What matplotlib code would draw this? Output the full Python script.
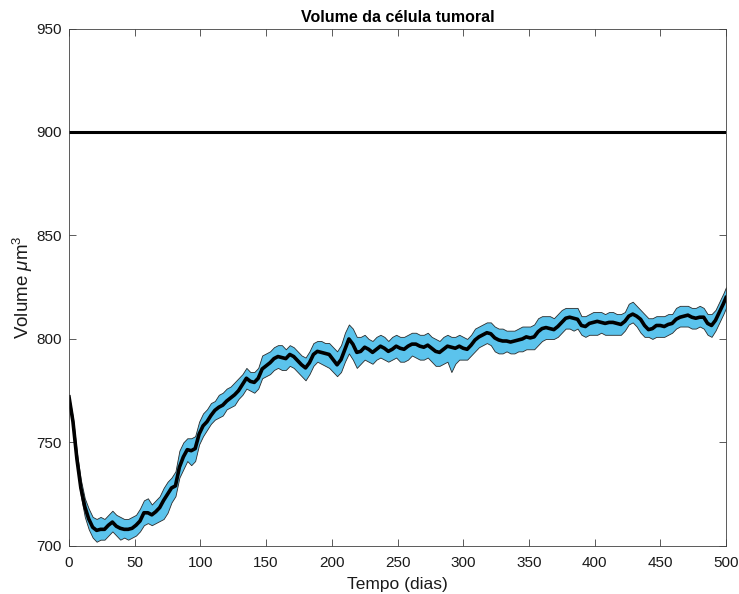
import numpy as np
import matplotlib
matplotlib.use("Agg")
import matplotlib.pyplot as plt

# tempo (dias), media e limites do volume (um^3)
dias = [0, 3, 6, 9, 12, 15, 18, 21, 24, 27, 30, 33, 36, 39, 42, 45, 48, 51, 54, 57,
        60, 63, 66, 69, 72, 75, 78, 81, 84, 87, 90, 93, 96, 99, 102, 105, 108, 111, 114, 117,
        120, 123, 126, 129, 132, 135, 138, 141, 144, 147, 150, 153, 156, 159, 162, 165, 168, 171, 174, 177,
        180, 183, 186, 189, 192, 195, 198, 201, 204, 207, 210, 213, 216, 219, 222, 225, 228, 231, 234, 237,
        240, 243, 246, 249, 252, 255, 258, 261, 264, 267, 270, 273, 276, 279, 282, 285, 288, 291, 294, 297,
        300, 303, 306, 309, 312, 315, 318, 321, 324, 327, 330, 333, 336, 339, 342, 345, 348, 351, 354, 357,
        360, 363, 366, 369, 372, 375, 378, 381, 384, 387, 390, 393, 396, 399, 402, 405, 408, 411, 414, 417,
        420, 423, 426, 429, 432, 435, 438, 441, 444, 447, 450, 453, 456, 459, 462, 465, 468, 471, 474, 477,
        480, 483, 486, 489, 492, 495, 498, 500]

media = [772, 760, 742, 728, 719, 713, 709, 707.5, 708, 708, 710, 711.5, 709.5, 708.5, 708, 708, 708.5, 710, 712, 716,
         716, 715, 716.5, 718.5, 722, 725, 728, 729, 738, 743, 746.5, 746, 747, 754, 758, 760, 763, 765.5, 767, 768,
         770, 771.5, 773, 775, 778, 781, 779.5, 779, 781, 785.5, 787, 788.5, 790.5, 791.5, 791, 790.5, 792.5, 791.5, 789.5, 787.5,
         786, 788.5, 792.5, 794, 793.5, 793, 792.5, 790, 787.5, 790, 795, 800, 797.5, 793.5, 794, 796, 795, 793.5, 795, 796.5,
         795.5, 794, 795, 796.5, 795.5, 795, 796.5, 797.5, 797.5, 796.5, 796, 797, 795.5, 794, 793.5, 795, 796.5, 796, 795.5, 796.5,
         795.5, 795, 797, 799.5, 801, 802, 803, 802.5, 800.5, 799.5, 799, 799, 798.5, 799, 799.5, 800, 801, 800.5, 801, 803.5,
         805, 805.5, 805, 804.5, 806, 808, 810, 810.5, 810, 809.5, 806.5, 806, 807.5, 808, 808.5, 808, 807.5, 808, 808, 807.5,
         807, 808.5, 811, 812, 811, 809.5, 806.5, 804.5, 805, 806.5, 806.5, 806, 807, 807.5, 809.5, 810.5, 811, 811.5, 810.5, 810,
         810.5, 810.5, 807.5, 806.5, 809, 813, 817, 820]

superior = [772.5, 762, 745, 732, 723, 718, 714, 713, 714, 713, 715, 717, 715, 714, 713, 713, 714, 715, 718, 722,
            723, 720, 722, 724, 728, 731, 733, 736, 746, 750, 752, 752, 753, 760, 764, 766, 769, 770, 773, 774,
            776, 777, 779, 781, 783, 786, 784, 784, 786, 792, 793, 794, 796, 797, 797, 795, 797, 796, 794, 792,
            791, 794, 798, 799, 799, 798, 798, 796, 794, 797, 803, 807, 805, 801, 801, 802, 800, 799, 801, 802,
            801, 799, 801, 802, 801, 801, 802, 803, 803, 802, 802, 803, 801, 800, 799, 801, 802, 801, 801, 802,
            801, 800, 802, 805, 806, 807, 808, 808, 806, 805, 805, 804, 804, 804, 805, 806, 806, 806, 807, 810,
            811, 811, 811, 810, 812, 814, 815, 815, 815, 815, 811, 811, 812, 813, 813, 813, 812, 813, 813, 812,
            812, 813, 817, 818, 816, 814, 812, 810, 810, 811, 811, 811, 812, 812, 815, 816, 816, 816, 815, 815,
            816, 815, 812, 812, 814, 818, 822, 825]

inferior = [771.5, 758, 739, 724, 714, 708, 704, 702, 703, 703, 705, 707, 705, 703, 704, 703, 704, 705, 707, 710,
            711, 710, 711, 712, 713, 716, 721, 724, 733, 737, 741, 739, 741, 749, 753, 756, 759, 761, 762, 763,
            766, 767, 768, 771, 773, 776, 775, 774, 776, 781, 782, 783, 785, 786, 785, 785, 787, 786, 784, 782,
            780, 783, 787, 789, 788, 787, 786, 784, 782, 784, 789, 793, 790, 786, 788, 790, 789, 788, 790, 791,
            790, 789, 790, 791, 789, 789, 790, 792, 791, 790, 790, 791, 789, 787, 787, 788, 789, 784, 788, 790,
            790, 790, 792, 794, 796, 797, 798, 797, 794, 793, 793, 794, 793, 793, 794, 794, 795, 795, 795, 797,
            799, 800, 800, 800, 801, 803, 805, 805, 804, 805, 802, 801, 802, 802, 802, 803, 802, 802, 802, 802,
            802, 804, 807, 808, 806, 803, 801, 801, 800, 801, 801, 801, 802, 803, 805, 806, 806, 806, 805, 805,
            806, 805, 802, 801, 804, 808, 812, 815]

limite = 900

plt.rcParams['font.family'] = ['Liberation Sans', 'DejaVu Sans']
plt.rcParams['mathtext.fontset'] = 'custom'
plt.rcParams['mathtext.it'] = 'Liberation Sans:italic'
plt.rcParams['mathtext.rm'] = 'Liberation Sans'

fig = plt.figure(figsize=(7.39, 5.94), dpi=100)
ax = fig.add_axes([0.0934, 0.081, 0.889, 0.871])

ax.fill_between(dias, inferior, superior, facecolor='#5bc3ec', edgecolor='#2b2b2b', linewidth=0.6)
ax.plot(dias, media, color='black', linewidth=2.6)
ax.axhline(limite, color='black', linewidth=2.2)

ax.set_xlim(0, 500)
ax.set_ylim(700, 950)
ax.set_xticks(np.arange(0, 501, 50))
ax.set_yticks(np.arange(700, 951, 50))
ax.tick_params(direction='in', top=True, right=True, length=5, width=0.6,
               labelsize=11, color='#404040', labelcolor='#1a1a1a')
ax.tick_params(axis='x', pad=7)
ax.tick_params(axis='y', pad=5)
for s in ax.spines.values():
    s.set_color('#404040')
    s.set_linewidth(0.6)

ax.set_title('Volume da célula tumoral', fontsize=11.5, fontweight='bold', pad=5)
ax.set_xlabel('Tempo (dias)', fontsize=12.5, labelpad=5, color='#1a1a1a')
ax.set_ylabel(r'Volume $\mu$m$^3$', fontsize=13.5, labelpad=1, color='#1a1a1a')

fig.savefig('out.png', dpi=100)
